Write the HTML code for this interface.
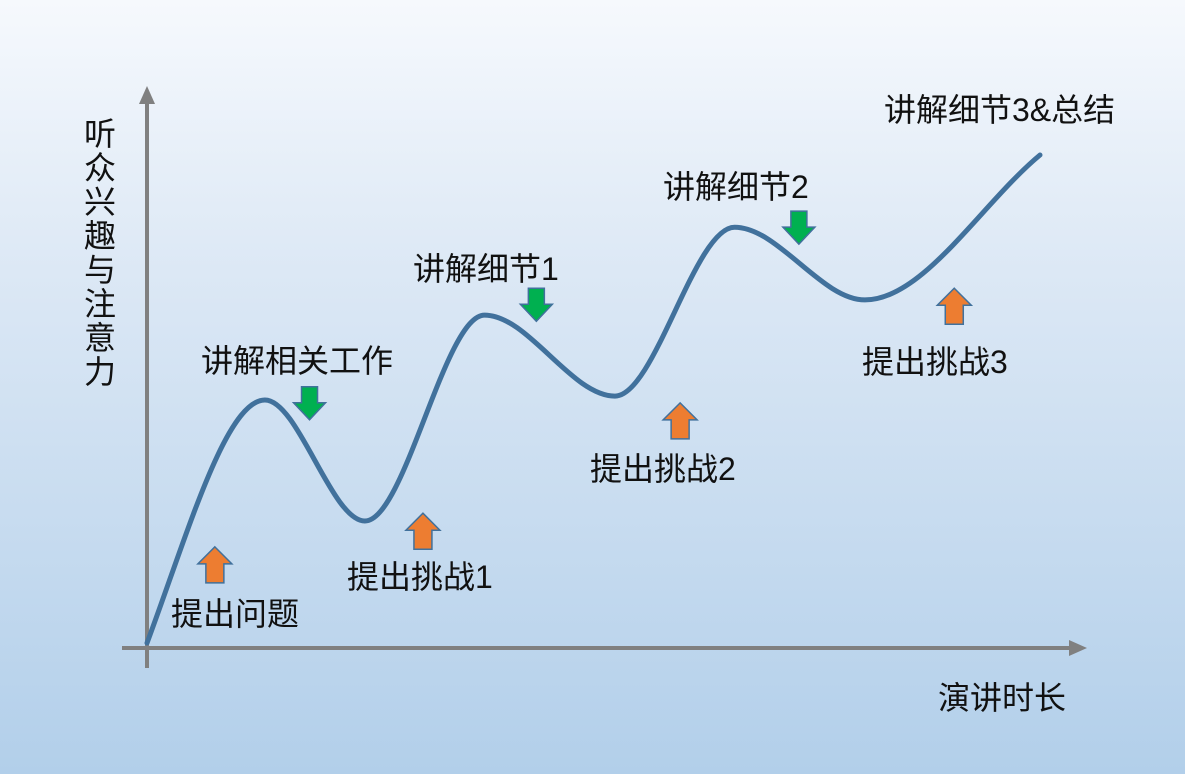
<!DOCTYPE html>
<html><head><meta charset="utf-8"><style>
html,body{margin:0;padding:0}
body{width:1185px;height:774px;overflow:hidden;background:linear-gradient(to bottom,#f6f9fd 0%,#dce8f5 35%,#b2cfea 100%);font-family:"Liberation Sans","Noto Sans CJK SC",sans-serif}
svg{position:absolute;left:0;top:0}
</style></head><body>
<svg width="1185" height="774" viewBox="0 0 1185 774">
<g id="axes">
<line x1="147" y1="668" x2="147" y2="100" stroke="#808080" stroke-width="4"/>
<polygon points="147,86 139,104 155,104" fill="#808080"/>
<line x1="122" y1="648" x2="1072" y2="648" stroke="#808080" stroke-width="4"/>
<polygon points="1087,648 1069,640 1069,656" fill="#808080"/>
</g>
<path id="curve" fill="none" stroke="#41719c" stroke-width="5" stroke-linecap="round"/>
<g id="arrows"></g>
<g id="labels" font-size="32" fill="#111" font-family="Liberation Sans, Noto Sans CJK SC, sans-serif">
<text x="884" y="121">讲解细节3&amp;总结</text>
<text x="663" y="198">讲解细节2</text>
<text x="413" y="280">讲解细节1</text>
<text x="201" y="372">讲解相关工作</text>
<text x="862" y="373">提出挑战3</text>
<text x="590" y="480">提出挑战2</text>
<text x="347" y="588">提出挑战1</text>
<text x="171" y="625">提出问题</text>
<text x="938" y="709">演讲时长</text>
</g>
<g font-size="32" fill="#111">
<text x="100" y="145" text-anchor="middle">听</text>
<text x="100" y="179" text-anchor="middle">众</text>
<text x="100" y="213" text-anchor="middle">兴</text>
<text x="100" y="247" text-anchor="middle">趣</text>
<text x="100" y="281" text-anchor="middle">与</text>
<text x="100" y="315" text-anchor="middle">注</text>
<text x="100" y="349" text-anchor="middle">意</text>
<text x="100" y="383" text-anchor="middle">力</text>
</g>
</svg>
<script>
const timePts=[0,13.2,24.4,37.8,52.4,65.8,80.4,100];
const interest=[0,49.8,25,67.2,50.6,85.2,70.3,100];
const upArrowT=[7.6,30.9,59.7,90.4];
const upArrowY=[19.7,26.6,49.2,72.7];
const downArrowT=[18.2,43.6,73.0];
const downArrowY=[52.5,72.7,88.5];
const X0=147,XS=8.93,Y0=643,YS=4.88;
function xs(t){return X0+t*XS;}
function ys(v){return Y0-v*YS;}
const px=timePts.map(xs),py=interest.map(ys),n=px.length;
const d=[],m=[];
for(let i=0;i<n-1;i++)d.push((py[i+1]-py[i])/(px[i+1]-px[i]));
for(let i=0;i<n;i++){
 if(i===0)m.push(d[0]*1.3);else if(i===n-1)m.push(d[n-2]);
 else m.push(d[i-1]*d[i]<=0?0:(d[i-1]+d[i])/2);
}
let p=`M${px[0]},${py[0]}`;
for(let i=0;i<n-1;i++){const h=(px[i+1]-px[i])/3;
 p+=` C${px[i]+h},${py[i]+m[i]*h} ${px[i+1]-h},${py[i+1]-m[i+1]*h} ${px[i+1]},${py[i+1]}`;}
document.getElementById('curve').setAttribute('d',p);
const g=document.getElementById('arrows');
const NS='http://www.w3.org/2000/svg';
upArrowT.forEach((t,i)=>{const cx=xs(t),tip=ys(upArrowY[i]);
 const a=document.createElementNS(NS,'polygon');
 a.setAttribute('points',`${cx},${tip} ${cx+17},${tip+17} ${cx+9},${tip+17} ${cx+9},${tip+36} ${cx-9},${tip+36} ${cx-9},${tip+17} ${cx-17},${tip+17}`);
 a.setAttribute('fill','#ed7d31');a.setAttribute('stroke','#41719c');a.setAttribute('stroke-width','1.5');
 
 
 g.appendChild(a);});
downArrowT.forEach((t,i)=>{const cx=xs(t),top=ys(downArrowY[i]);
 const a=document.createElementNS(NS,'polygon');
 a.setAttribute('points',`${cx-8},${top} ${cx+8},${top} ${cx+8},${top+16} ${cx+16},${top+16} ${cx},${top+33} ${cx-16},${top+16} ${cx-8},${top+16}`);
 a.setAttribute('fill','#00b050');a.setAttribute('stroke','#41719c');a.setAttribute('stroke-width','1.5');
 
 
 g.appendChild(a);});
</script>
</body></html>
